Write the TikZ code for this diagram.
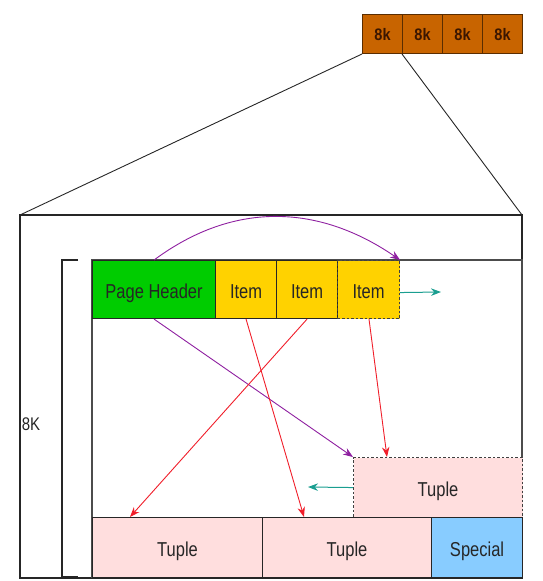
\documentclass[tikz,border=0pt]{standalone}
\usepackage{fontspec}
\usepackage{graphicx}
\setmainfont{Liberation Sans}
\usetikzlibrary{arrows.meta,calc}
\definecolor{blkfill}{HTML}{C86400}
\definecolor{blkdraw}{HTML}{5A2D00}
\definecolor{blktext}{HTML}{3A1600}
\definecolor{hdrgreen}{HTML}{00CC00}
\definecolor{itemyellow}{HTML}{FFD200}
\definecolor{tuplepink}{HTML}{FFDEDE}
\definecolor{specblue}{HTML}{88CCFF}
\definecolor{arrpurple}{HTML}{8E1FA0}
\definecolor{arrred}{HTML}{F01E2A}
\definecolor{arrteal}{HTML}{1A9E90}
\newcommand{\tallt}[1]{\smash{\raisebox{-9pt}{\scalebox{1}[1.22]{#1}}}}
\newcommand{\tallb}[1]{\smash{\raisebox{-6.5pt}{\scalebox{1}[1.15]{#1}}}}
\tikzset{
  cell/.style={draw=black!85, line width=1.1pt, anchor=north west, inner sep=0pt,
    font=\fontsize{16.5}{19}\selectfont, text=black!85},
  blk/.style={draw=blkdraw, line width=1pt, fill=blkfill, anchor=north west, inner sep=0pt,
    minimum width=40pt, minimum height=39pt, font=\bfseries\fontsize{14.5}{16}\selectfont, text=blktext},
  dashcell/.style={cell, draw=black!75, dash pattern=on 2.5pt off 2pt},
  parr/.style={draw=arrpurple, line width=0.9pt, -{Stealth[length=10pt,width=7.5pt]}},
  rarr/.style={draw=arrred, line width=0.9pt, -{Stealth[length=10pt,width=7.5pt]}},
  tarr/.style={draw=arrteal, line width=1pt, -{Stealth[length=10pt,width=7.5pt]}},
  frame/.style={draw=black!85, line width=1.2pt},
}
\begin{document}
\begin{tikzpicture}[x=1pt,y=-1pt]
\useasboundingbox (0,0) rectangle (543,581);
% top blocks
\node[blk] (b1) at (362,14) {\tallb{8k}};
\node[blk] (b2) at (402,14) {\tallb{8k}};
\node[blk] (b3) at (442,14) {\tallb{8k}};
\node[blk] (b4) at (482,14) {\tallb{8k}};
% outer box
\coordinate (oNW) at (20,215);
\coordinate (oSE) at (522,578);
\coordinate (oNE) at (522,215);
\draw[frame] (oNW) rectangle (oSE);
\draw[line width=0.9pt, black!85] (b1.south west) -- (oNW);
\draw[line width=0.9pt, black!85] (b2.south west) -- (oNE);
% bracket
\coordinate (brT) at (62,260);
\coordinate (brB) at (62,577);
\draw[line width=1.1pt, black!85] ($(brT)+(16,0)$) -- (brT) -- (brB) -- ($(brB)+(16,0)$);
\node[font=\fontsize{15}{17}\selectfont, text=black!85] (lbl) at (31,424) {\scalebox{1}[1.22]{8K}};
% content box
\coordinate (cNW) at (92,260);
\coordinate (cSE) at (522,577);
\draw[line width=1.1pt, black!70] (cNW) rectangle (cSE);
% cells
\node[cell, fill=hdrgreen, minimum width=123pt, minimum height=58pt] (hdr) at (92,260) {\tallt{Page Header}};
\node[cell, fill=itemyellow, minimum width=61pt, minimum height=58pt] (it1) at (215,260) {\tallt{Item}};
\node[cell, fill=itemyellow, minimum width=61pt, minimum height=58pt] (it2) at (276,260) {\tallt{Item}};
\node[dashcell, fill=itemyellow, minimum width=62pt, minimum height=58pt] (it3) at (337,260) {\tallt{Item}};
\node[dashcell, fill=tuplepink, minimum width=169pt, minimum height=60pt] (dtup) at (353,457) {\tallt{Tuple}};
\node[cell, fill=tuplepink, minimum width=170pt, minimum height=60pt] (tup1) at (92,517) {\tallt{Tuple}};
\node[cell, fill=tuplepink, minimum width=169pt, minimum height=60pt] (tup2) at (262,517) {\tallt{Tuple}};
\node[cell, fill=specblue, minimum width=91pt, minimum height=60pt] (spec) at (431,517) {\tallt{Special}};
% arrows
\draw[parr] (hdr.north) .. controls (235,200) and (320,205) .. (it3.north east);
\draw[parr] (hdr.south) -- (dtup.north west);
\draw[rarr] (it1.south) -- ($(tup2.north west)+(42,0)$);
\draw[rarr] (it2.south) -- ($(tup1.north west)+(38,0)$);
\draw[rarr] ($(it3.south west)+(32,0)$) -- ($(dtup.north west)+(34,0)$);
\coordinate (t1end) at (441,292);
\coordinate (t2end) at (308,487);
\draw[tarr] ($(it3.east)+(0,3)$) -- (t1end);
\draw[tarr] (dtup.west) -- (t2end);
\end{tikzpicture}
\end{document}
